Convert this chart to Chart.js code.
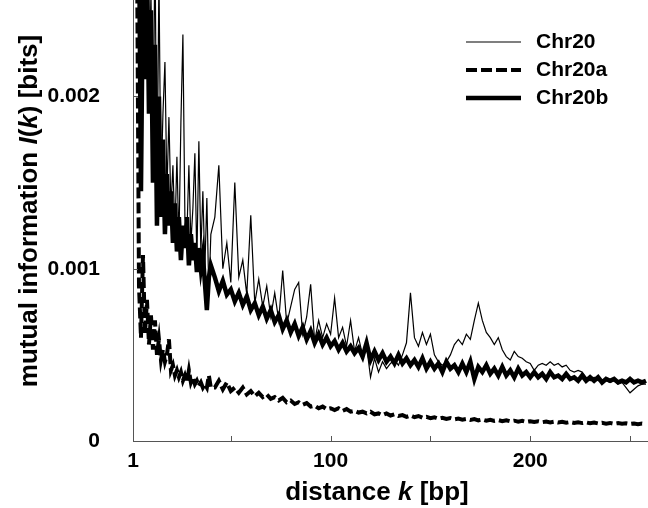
<!DOCTYPE html>
<html lang="en">
<head>
  <meta charset="UTF-8">
  <title>Mutual information vs distance</title>
  <script src="https://cdn.jsdelivr.net/npm/chart.js"></script>
  <style>
    html, body { margin: 0; padding: 0; background: #fff; }
  </style>
</head>
<body>
  <canvas id="mi-chart" width="648" height="508"></canvas>

  <script>
    // distance k in bp (every bp up to 40, then every 2nd bp)
    const distances = [
      1, 2, 3, 4, 5, 6, 7, 8, 9, 10,
      11, 12, 13, 14, 15, 16, 17, 18, 19, 20,
      21, 22, 23, 24, 25, 26, 27, 28, 29, 30,
      31, 32, 33, 34, 35, 36, 37, 38, 39, 40,
      42, 44, 46, 48, 50, 52, 54, 56, 58, 60,
      62, 64, 66, 68, 70, 72, 74, 76, 78, 80,
      82, 84, 86, 88, 90, 92, 94, 96, 98, 100,
      102, 104, 106, 108, 110, 112, 114, 116, 118, 120,
      122, 124, 126, 128, 130, 132, 134, 136, 138, 140,
      142, 144, 146, 148, 150, 152, 154, 156, 158, 160,
      162, 164, 166, 168, 170, 172, 174, 176, 178, 180,
      182, 184, 186, 188, 190, 192, 194, 196, 198, 200,
      202, 204, 206, 208, 210, 212, 214, 216, 218, 220,
      222, 224, 226, 228, 230, 232, 234, 236, 238, 240,
      242, 244, 246, 248, 250, 252, 254, 256, 258
    ];

    // I(k) in bits
    const chr20 = [
      0.0042, 0.0037, 0.0032, 0.0029, 0.0016, 0.00275, 0.0022, 0.0029, 0.0020, 0.0026,
      0.0016, 0.0029, 0.0014, 0.0027, 0.00145, 0.0019, 0.0022, 0.00145, 0.00188, 0.00135,
      0.0016, 0.0012, 0.00165, 0.00115, 0.00185, 0.00236, 0.0013, 0.0012, 0.0016, 0.00115,
      0.00135, 0.00167, 0.00105, 0.00174, 0.0011, 0.00145, 0.001, 0.00141, 0.00085, 0.0012,
      0.0013, 0.0016, 0.001, 0.00115, 0.00092, 0.0015, 0.00095, 0.00105, 0.00085, 0.00131,
      0.0008, 0.00094, 0.00078, 0.0009, 0.00072, 0.00086, 0.0007, 0.00099, 0.00068, 0.00078,
      0.00088, 0.00092, 0.00062, 0.00072, 0.00091, 0.00058, 0.0007, 0.0006, 0.00068, 0.00062,
      0.00083, 0.0006, 0.00066, 0.00055, 0.0007, 0.00052, 0.0006, 0.0005, 0.00055, 0.00037,
      0.00048, 0.0004, 0.00046, 0.00042, 0.00045, 0.00047, 0.00044, 0.0005, 0.00057, 0.00086,
      0.0006, 0.00055, 0.00063, 0.00056, 0.00062, 0.0005, 0.00046, 0.00044, 0.00046, 0.0005,
      0.00056, 0.00059, 0.00056, 0.00062, 0.00059, 0.0007, 0.0008, 0.0007, 0.00063, 0.0006,
      0.00056, 0.0006, 0.00053, 0.00049, 0.00047, 0.00052, 0.00049, 0.00048, 0.00046, 0.00045,
      0.00041, 0.00044, 0.00045, 0.00044, 0.00046, 0.00044, 0.00045, 0.00043, 0.00044, 0.00041,
      0.0004, 0.00041, 0.0004, 0.00037, 0.00035, 0.00037, 0.00035, 0.00035, 0.00035, 0.00034,
      0.00035, 0.00033, 0.00034, 0.00031, 0.00028, 0.0003, 0.00032, 0.00033, 0.00033
    ];

    const chr20a = [
      0.0060, 0.0040, 0.0029, 0.0009, 0.0006, 0.00108, 0.00062, 0.00082, 0.00056, 0.00073,
      0.00053, 0.0007, 0.0005, 0.00059, 0.00047, 0.00053, 0.00046, 0.0005, 0.00059, 0.00041,
      0.00044, 0.00038, 0.00041, 0.00037, 0.0004, 0.00035, 0.00038, 0.00034, 0.00041, 0.00034,
      0.00037, 0.00033, 0.00035, 0.00032, 0.00034, 0.00031, 0.00033, 0.00031, 0.00038, 0.00031,
      0.00031, 0.00035, 0.0003, 0.00034, 0.00029, 0.00031, 0.00028, 0.00031, 0.00027, 0.00029,
      0.00026, 0.00028, 0.000255, 0.00027, 0.000245, 0.000255, 0.000235, 0.00025, 0.000225, 0.000235,
      0.000215, 0.000225, 0.00021, 0.00022, 0.0002, 0.000205, 0.00019, 0.0002, 0.000185, 0.00019,
      0.00018, 0.00019, 0.000175, 0.000185, 0.00017, 0.000175, 0.000165, 0.00017, 0.00016, 0.00017,
      0.000155, 0.00016, 0.00015, 0.00016, 0.000148, 0.000155, 0.000145, 0.00015, 0.00014, 0.000148,
      0.000138, 0.000145, 0.000135, 0.00014, 0.000132, 0.000138, 0.00013, 0.000135, 0.000128, 0.000133,
      0.000126, 0.00013, 0.000124, 0.000128, 0.000122, 0.000127, 0.00012, 0.000125, 0.000118, 0.000123,
      0.000117, 0.000121, 0.000115, 0.00012, 0.000114, 0.000118, 0.000112, 0.000117, 0.000111, 0.000115,
      0.00011, 0.000114, 0.000109, 0.000113, 0.000108, 0.000112, 0.000107, 0.000111, 0.000106, 0.00011,
      0.000105, 0.000109, 0.000104, 0.000108, 0.000103, 0.000107, 0.000102, 0.000106, 0.000101, 0.000105,
      0.0001, 0.000104, 0.0001, 0.000103, 0.000099, 0.000102, 0.000098, 0.000101, 0.000097
    ];

    const chr20b = [
      0.0040, 0.0036, 0.0033, 0.0030, 0.00145, 0.0027, 0.0021, 0.0028, 0.0019, 0.0025,
      0.0015, 0.0023, 0.00125, 0.0020, 0.0013, 0.00175, 0.0012, 0.00155, 0.00125, 0.00145,
      0.00115, 0.00138, 0.0011, 0.0013, 0.00105, 0.00125, 0.00112, 0.0013, 0.00102, 0.0012,
      0.00105, 0.00115, 0.00098, 0.00112, 0.0010, 0.00108, 0.00092, 0.00076, 0.00095, 0.00102,
      0.00095, 0.00087, 0.00093, 0.00085, 0.00088, 0.00081, 0.00086, 0.00079, 0.00084, 0.00076,
      0.0008, 0.00073, 0.00078, 0.00071, 0.00076, 0.00069, 0.00073, 0.00065, 0.0007, 0.00063,
      0.00068, 0.00061, 0.00066, 0.00059, 0.00064, 0.00057, 0.00062, 0.00056, 0.0006, 0.00055,
      0.00058, 0.00053, 0.00057, 0.00052, 0.00055, 0.00051, 0.00054, 0.00049, 0.00057, 0.00047,
      0.00052, 0.00047, 0.00051, 0.00046, 0.00049, 0.00045, 0.0005, 0.00045, 0.00048, 0.00044,
      0.00047, 0.00043, 0.00048, 0.00042, 0.00046, 0.00042, 0.00045, 0.0004, 0.00046, 0.00042,
      0.00044, 0.0004, 0.00045, 0.0004, 0.00046, 0.00036, 0.00043, 0.0004, 0.00044, 0.00039,
      0.00042, 0.00038, 0.00043, 0.00038, 0.00041, 0.00037, 0.00042, 0.00038, 0.0004, 0.00037,
      0.0004, 0.00037, 0.00039, 0.00036, 0.0004, 0.00037, 0.00038, 0.00036, 0.00039, 0.00036,
      0.00037, 0.00035, 0.00038, 0.00035, 0.00037, 0.00035, 0.00037, 0.00034, 0.00036, 0.00035,
      0.00036, 0.00034, 0.00035, 0.00034, 0.00036, 0.00034, 0.00035, 0.00034, 0.00035
    ];

    const xTicks = [1, 100, 200];
    const xMinorTicks = [50, 100, 150, 200, 250];
    const yTicks = [0, 0.001, 0.002];

    const FONT = '"Liberation Sans", Arial, Helvetica, sans-serif';

    function toPoints(values) {
      return distances.map((k, i) => ({ x: k, y: values[i] }));
    }

    // draws a string made of parts with different font styles
    function drawParts(ctx, parts, cx, baseline, size) {
      let total = 0;
      parts.forEach(p => {
        ctx.font = p[1] + ' ' + size + 'px ' + FONT;
        total += ctx.measureText(p[0]).width;
      });
      let x = cx - total / 2;
      ctx.textAlign = 'left';
      ctx.textBaseline = 'alphabetic';
      parts.forEach(p => {
        ctx.font = p[1] + ' ' + size + 'px ' + FONT;
        ctx.fillText(p[0], x, baseline);
        x += ctx.measureText(p[0]).width;
      });
    }

    const decor = {
      id: 'decor',
      afterDraw(chart) {
        const { ctx, chartArea: area, scales } = chart;
        ctx.save();

        // inward tick marks
        ctx.strokeStyle = '#555';
        ctx.lineWidth = 1;
        xMinorTicks.forEach(v => {
          const px = Math.round(scales.x.getPixelForValue(v)) + 0.5;
          ctx.beginPath();
          ctx.moveTo(px, area.bottom);
          ctx.lineTo(px, area.bottom - 5);
          ctx.stroke();
        });
        yTicks.slice(1).forEach(v => {
          const py = Math.round(scales.y.getPixelForValue(v)) + 0.5;
          ctx.beginPath();
          ctx.moveTo(area.left, py);
          ctx.lineTo(area.left + 5, py);
          ctx.stroke();
        });

        // axis titles
        ctx.fillStyle = '#000';
        drawParts(ctx, [['distance ', 'bold'], ['k', 'italic bold'], [' [bp]', 'bold']], 377, 500, 26);
        ctx.save();
        ctx.translate(37, 211);
        ctx.rotate(-Math.PI / 2);
        drawParts(ctx, [['mutual information ', 'bold'], ['I', 'italic bold'], ['(', 'bold'],
          ['k', 'italic bold'], [') [bits]', 'bold']], 0, 0, 26);
        ctx.restore();

        // legend
        const rows = [42, 70, 98];
        chart.data.datasets.forEach((ds, i) => {
          const y = rows[i];
          ctx.strokeStyle = ds.borderColor;
          ctx.lineWidth = ds.borderWidth;
          ctx.setLineDash(ds.borderDash || []);
          ctx.beginPath();
          ctx.moveTo(466, y);
          ctx.lineTo(521, y);
          ctx.stroke();
          ctx.setLineDash([]);
          ctx.font = 'bold 21px ' + FONT;
          ctx.textAlign = 'left';
          ctx.textBaseline = 'middle';
          ctx.fillText(ds.label, 536, y);
        });

        ctx.restore();
      }
    };

    new Chart(document.getElementById('mi-chart'), {
      type: 'line',
      data: {
        datasets: [
          { label: 'Chr20', data: toPoints(chr20), borderColor: '#000', borderWidth: 1.2, order: 0 },
          { label: 'Chr20a', data: toPoints(chr20a), borderColor: '#000', borderWidth: 4, borderDash: [11, 4], order: 2 },
          { label: 'Chr20b', data: toPoints(chr20b), borderColor: '#000', borderWidth: 4.5, order: 1 }
        ]
      },
      options: {
        responsive: false,
        animation: false,
        devicePixelRatio: 1,
        layout: { padding: 0 },
        elements: {
          point: { radius: 0 },
          line: { tension: 0, fill: false, borderJoinStyle: 'miter' }
        },
        plugins: {
          legend: { display: false },
          title: { display: false },
          tooltip: { enabled: false }
        },
        scales: {
          x: {
            type: 'linear',
            min: 1,
            max: 259,
            grid: { display: false, drawTicks: false },
            border: { display: true, color: '#555', width: 1 },
            afterBuildTicks: s => { s.ticks = xTicks.map(v => ({ value: v })); },
            afterFit: s => {
              s.height = 67;
              s.paddingLeft = 0;
              s.paddingRight = 0;
            },
            ticks: {
              padding: 8,
              maxRotation: 0,
              color: '#000',
              font: { family: FONT, size: 21, weight: 'bold' },
              callback: v => String(v)
            }
          },
          y: {
            type: 'linear',
            min: 0,
            max: 0.00256,
            grid: { display: false, drawTicks: false },
            border: { display: true, color: '#555', width: 1 },
            afterBuildTicks: s => { s.ticks = yTicks.map(v => ({ value: v })); },
            afterFit: s => {
              s.width = 133;
              s.paddingTop = 0;
              s.paddingBottom = 0;
            },
            ticks: {
              padding: 33,
              color: '#000',
              font: { family: FONT, size: 21, weight: 'bold' },
              callback: v => (v === 0 ? '0' : v.toFixed(3))
            }
          }
        }
      },
      plugins: [decor]
    });
  </script>
</body>
</html>
